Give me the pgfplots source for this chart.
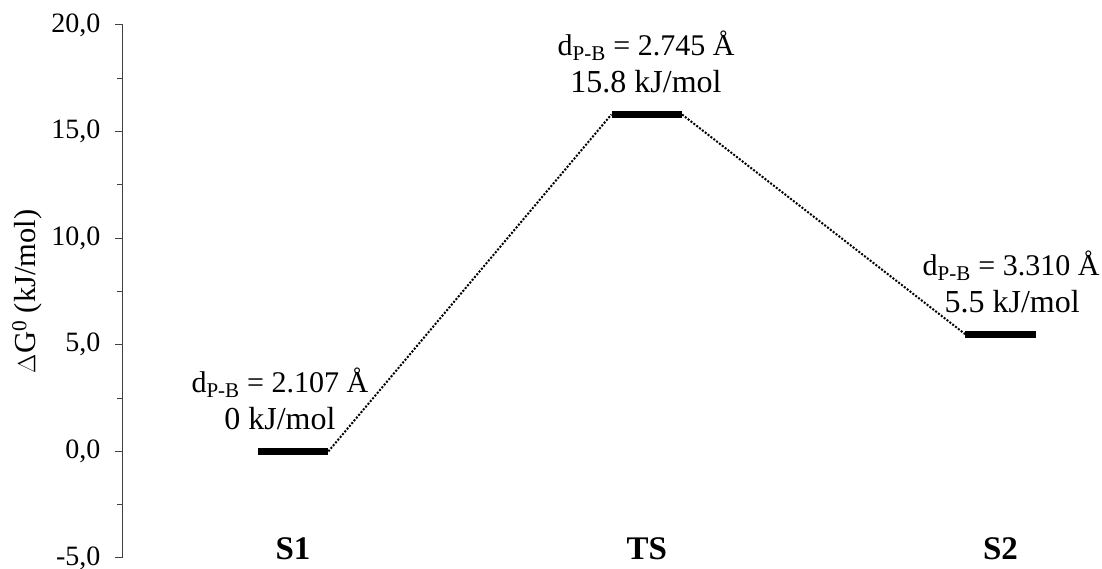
\documentclass[border=0pt]{standalone}
\usepackage{fontspec}
\setmainfont{Liberation Serif}
\usepackage{pgfplots}
\pgfplotsset{compat=1.18}
\begin{document}
\begin{tikzpicture}
\begin{axis}[
  scale only axis, width=979pt, height=533pt,
  xmin=-0.4806, xmax=2.287, ymin=-5, ymax=20,
  axis x line=none, axis y line*=left,
  ytick={-5,0,5,10,15,20}, minor ytick={-2.5,2.5,7.5,12.5,17.5},
  tick align=outside, major tick length=8pt, minor tick length=6pt,
  every tick/.style={line width=1pt, black!75},
  axis line style={line width=1pt, black!75},
  yticklabel style={font=\fontsize{28}{33}\selectfont, xshift=-11pt},
  /pgf/number format/.cd, fixed, fixed zerofill, precision=1, use comma, assume math mode=true,
  /pgfplots/.cd,
  ylabel={$\Delta$G\textsuperscript{0} (kJ/mol)},
  every axis y label/.style={at={(axis description cs:-0.098,0.5)}, rotate=90, anchor=center, font=\fontsize{30.5}{36}\selectfont},
  clip=false,
]
% connectors
\addplot[black, line width=2pt, dash pattern=on 2pt off 1.6pt] coordinates {(0.1,0) (0.9,15.8)};
\addplot[black, line width=2pt, dash pattern=on 2pt off 1.6pt] coordinates {(1.1,15.8) (1.9,5.5)};
% levels
\addplot[black, line width=7pt] coordinates {(-0.099,0) (0.099,0)};
\addplot[black, line width=7pt] coordinates {(0.901,15.8) (1.099,15.8)};
\addplot[black, line width=7pt] coordinates {(1.901,5.5) (2.099,5.5)};
% annotations
\begin{scope}[every node/.style={font=\fontsize{30}{36}\selectfont, anchor=base}]
\node at (axis cs:-0.037,2.77) {d\textsubscript{P-B} = 2.107 Å};
\node at (axis cs:0.998,18.57) {d\textsubscript{P-B} = 2.745 Å};
\node at (axis cs:2.030,8.27) {d\textsubscript{P-B} = 3.310 Å};
\end{scope}
\begin{scope}[every node/.style={font=\fontsize{32}{38}\selectfont, anchor=base}]
\node at (axis cs:-0.037,1.03) {0 kJ/mol};
\node at (axis cs:0.998,16.83) {15.8 kJ/mol};
\node at (axis cs:2.033,6.53) {5.5 kJ/mol};
\end{scope}
\begin{scope}[every node/.style={font=\fontsize{33}{40}\selectfont\bfseries, anchor=base}]
\node at (axis cs:0,-5.09) {S1};
\node at (axis cs:1,-5.09) {TS};
\node at (axis cs:2,-5.09) {S2};
\end{scope}
\end{axis}
\pgfresetboundingbox
\path (current axis.south west) ++(-123pt,-11pt) coordinate (bl);
\path (current axis.north west) ++(-123pt,25pt) coordinate (tl);
\path[use as bounding box] (bl) rectangle (tl -| current axis.east);
\end{tikzpicture}
\end{document}
